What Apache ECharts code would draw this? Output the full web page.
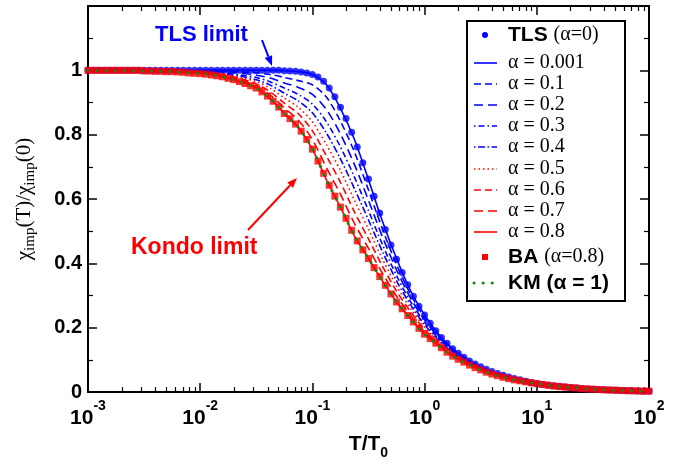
<!DOCTYPE html>
<html><head><meta charset="utf-8">
<script src="https://cdn.jsdelivr.net/npm/echarts@6/dist/echarts.min.js"></script>
<style>html,body{margin:0;padding:0;background:#fff}#c{width:684px;height:465px}</style>
</head><body><div id="c"></div>
<script>
// ---------- DATA ----------
// decades for x-axis ticks (T/T0 = 10^e)
const decadeExp = [-3, -2, -1, 0, 1, 2];
const minorMult = [2, 3, 4, 5, 6, 7, 8, 9];
const yTickMax = 1;

// exponents (log10 T/T0) used for the line curves
const lineExp = [-3,-2.5,-2.25,-2,-1.875,-1.75,-1.625,-1.5,-1.375,-1.25,-1.125,-1,-0.875,-0.75,-0.625,-0.5,-0.375,-0.25,-0.125,0,0.125,0.25,0.375,0.5,0.625,0.75,0.875,1,1.25,1.5,1.75,2];

const a0001 = [1.000,1.000,1.000,1.000,1.000,1.000,1.000,1.000,1.000,0.999,0.996,0.987,0.955,0.882,0.785,0.660,0.530,0.415,0.315,0.240,0.180,0.135,0.103,0.079,0.061,0.047,0.036,0.027,0.016,0.009,0.005,0.003];
const a01 = [1.000,1.000,0.999,0.999,0.998,0.997,0.995,0.992,0.987,0.978,0.968,0.955,0.917,0.842,0.746,0.628,0.506,0.397,0.304,0.232,0.175,0.132,0.101,0.078,0.060,0.046,0.036,0.027,0.016,0.009,0.005,0.003];
const a02 = [1.000,0.999,0.999,0.997,0.996,0.994,0.990,0.985,0.976,0.961,0.947,0.925,0.878,0.802,0.707,0.596,0.482,0.380,0.292,0.224,0.171,0.129,0.099,0.076,0.059,0.046,0.035,0.027,0.016,0.009,0.005,0.003];
const a03 = [1.000,0.999,0.998,0.996,0.994,0.990,0.985,0.978,0.964,0.945,0.925,0.895,0.840,0.762,0.668,0.564,0.458,0.362,0.281,0.217,0.166,0.126,0.097,0.075,0.058,0.045,0.035,0.027,0.016,0.009,0.005,0.003];
const a04 = [1.000,0.999,0.998,0.995,0.992,0.987,0.981,0.971,0.954,0.929,0.905,0.868,0.805,0.725,0.632,0.535,0.436,0.346,0.271,0.209,0.162,0.123,0.095,0.074,0.057,0.044,0.034,0.026,0.016,0.009,0.005,0.003];
const a05 = [1.000,0.999,0.997,0.994,0.991,0.984,0.976,0.965,0.944,0.914,0.885,0.840,0.769,0.689,0.596,0.506,0.413,0.330,0.260,0.202,0.158,0.121,0.094,0.073,0.056,0.044,0.034,0.026,0.016,0.009,0.005,0.003];
const a06 = [1.000,0.999,0.997,0.993,0.989,0.981,0.972,0.958,0.933,0.898,0.865,0.812,0.734,0.652,0.560,0.476,0.391,0.314,0.250,0.195,0.154,0.118,0.092,0.072,0.055,0.043,0.034,0.026,0.016,0.009,0.005,0.003];
const a07 = [1.000,0.998,0.997,0.991,0.987,0.978,0.967,0.952,0.923,0.883,0.845,0.785,0.698,0.615,0.524,0.447,0.369,0.298,0.239,0.188,0.150,0.115,0.090,0.070,0.054,0.043,0.033,0.026,0.016,0.009,0.005,0.003];
const a08 = [1.000,0.998,0.996,0.990,0.985,0.975,0.962,0.945,0.912,0.866,0.823,0.755,0.660,0.575,0.485,0.415,0.345,0.280,0.228,0.180,0.145,0.112,0.088,0.069,0.053,0.042,0.033,0.026,0.016,0.009,0.005,0.003];
const km = [1.000,0.998,0.996,0.990,0.985,0.975,0.962,0.945,0.912,0.866,0.823,0.755,0.660,0.575,0.485,0.415,0.345,0.280,0.228,0.180,0.145,0.112,0.088,0.069,0.053,0.042,0.033,0.026,0.016,0.009,0.005,0.003];

// dense symbol data: exponents from -3 to 2 in steps of 0.05
const dotStart = -3, dotEnd = 2, dotStep = 0.05;
const tls = [1,1,1,1,1,1,1,1,1,1, 1,1,1,1,1,1,1,1,1,1, 1,1,1,1,1,1,1,1,1,1, 1,1,1,1,1,
  0.999,0.998,0.997,0.995,0.992,0.987,
  0.979,0.966,0.945,0.918,0.885,0.850,0.808,0.762,0.713,0.662,
  0.609,0.557,0.505,0.457,0.413,0.372,0.334,0.298,0.267,0.240,
  0.214,0.191,0.170,0.152,0.135,0.121,0.108,0.097,0.087,0.079,
  0.071,0.064,0.058,0.052,0.047,0.042,0.038,0.034,0.030,0.027,
  0.024,0.022,0.020,0.018,0.016,0.014,0.013,0.011,0.010,0.009,
  0.008,0.007,0.0065,0.006,0.005,0.0045,0.004,0.0035,0.003,0.003];
const ba = [1,1,1,1,1,1,1,1,1,1,
  0.998,0.998,0.997,0.997,0.996,0.996,0.995,0.994,0.992,0.991,
  0.990,0.988,0.986,0.983,0.980,0.975,0.971,0.965,0.959,0.952,
  0.945,0.933,0.920,0.904,0.886,0.866,0.850,0.833,0.811,0.785,
  0.755,0.718,0.680,0.643,0.609,0.575,0.540,0.503,0.470,0.442,
  0.415,0.387,0.359,0.332,0.305,0.280,0.259,0.238,0.218,0.198,
  0.180,0.166,0.152,0.138,0.124,0.112,0.102,0.093,0.084,0.076,
  0.069,0.062,0.056,0.051,0.046,0.042,0.038,0.035,0.032,0.029,
  0.026,0.024,0.021,0.019,0.017,0.016,0.014,0.013,0.011,0.010,
  0.009,0.008,0.007,0.0065,0.006,0.005,0.0045,0.004,0.0035,0.003,0.003];

const lineNames = ['α = 0.001','α = 0.1','α = 0.2','α = 0.3','α = 0.4','α = 0.5','α = 0.6','α = 0.7','α = 0.8'];
const lineValues = [a0001,a01,a02,a03,a04,a05,a06,a07,a08];

// ---------- STYLE ----------
const SANS = '"Liberation Sans", Arial, Helvetica, sans-serif';
const SERIF = '"Liberation Serif", "Times New Roman", serif';
const BLUE = '#0000ff', RED = '#ff0000', GREEN = '#118811';
const lineStyles = [
  {color: BLUE, type: 'solid'},
  {color: BLUE, type: [7, 4]},
  {color: BLUE, type: [9, 5]},
  {color: BLUE, type: [1.5, 3, 6, 3]},
  {color: BLUE, type: [1.5, 2.5, 7, 2.5]},
  {color: RED, type: [1.5, 3]},
  {color: RED, type: [7, 4]},
  {color: RED, type: [9, 5]},
  {color: RED, type: 'solid'}
];

function seq(a, b, s) { const r = []; const n = Math.round((b - a) / s); for (let i = 0; i <= n; i++) r.push(+(a + i * s).toFixed(4)); return r; }
const dotExp = seq(dotStart, dotEnd, dotStep);
const pts = (exps, vals) => exps.map((e, i) => [Math.pow(10, e), vals[i]]);

const xMajor = decadeExp.map(e => Math.pow(10, e));
const xMinor = [];
decadeExp.slice(0, -1).forEach(e => minorMult.forEach(m => xMinor.push(m * Math.pow(10, e))));

const series = [];
series.push({name: 'TLS', type: 'scatter', data: pts(dotExp, tls), symbol: 'circle', symbolSize: 7,
  itemStyle: {color: BLUE}, z: 2});
lineValues.forEach((v, i) => series.push({
  name: lineNames[i], type: 'line', data: pts(lineExp, v), symbol: 'none', smooth: 0.3,
  lineStyle: {color: lineStyles[i].color, type: lineStyles[i].type, width: 1.6}, z: 3
}));
series.push({name: 'BA', type: 'scatter', data: pts(dotExp, ba), symbol: 'rect', symbolSize: 7,
  itemStyle: {color: RED}, z: 4});
series.push({name: 'KM', type: 'line', data: pts(lineExp, km), symbol: 'none', smooth: 0.3,
  lineStyle: {color: GREEN, width: 3, type: [0.1, 9], cap: 'round'}, z: 5});

const baseX = {type: 'log', logBase: 10, min: 0.001, max: 100, splitLine: {show: false}};
const xAxes = [
  Object.assign({}, baseX, {position: 'bottom',
    axisLine: {lineStyle: {color: '#000', width: 2}},
    axisTick: {inside: true, length: 9, customValues: xMajor, lineStyle: {color: '#000', width: 1.5}},
    axisLabel: {customValues: xMajor, margin: 7, color: '#000',
      formatter: v => '{b|10}{s|' + Math.round(Math.log10(v)) + '}',
      rich: {b: {fontSize: 21, fontWeight: 'bold', fontFamily: SANS, color: '#000', lineHeight: 30, verticalAlign: 'bottom'},
             s: {fontSize: 14, fontWeight: 'bold', fontFamily: SANS, color: '#000', lineHeight: 14, verticalAlign: 'top'}}},
    name: '{a|T/T}{s|0}', nameLocation: 'middle', nameGap: 30,
    nameTextStyle: {rich: {a: {fontSize: 21, fontWeight: 'bold', fontFamily: SANS, color: '#000', lineHeight: 26, verticalAlign: 'top'},
                           s: {fontSize: 14, fontWeight: 'bold', fontFamily: SANS, color: '#000', lineHeight: 14, verticalAlign: 'bottom'}}}
  }),
  Object.assign({}, baseX, {position: 'bottom', axisLine: {show: false},
    axisTick: {inside: true, length: 5, customValues: xMinor, lineStyle: {color: '#000', width: 1.2}},
    axisLabel: {show: false}}),
  Object.assign({}, baseX, {position: 'top',
    axisLine: {lineStyle: {color: '#000', width: 2}},
    axisTick: {inside: true, length: 9, customValues: xMajor, lineStyle: {color: '#000', width: 1.5}},
    axisLabel: {show: false}}),
  Object.assign({}, baseX, {position: 'top', axisLine: {show: false},
    axisTick: {inside: true, length: 5, customValues: xMinor, lineStyle: {color: '#000', width: 1.2}},
    axisLabel: {show: false}})
];
const baseY = {type: 'value', min: 0, max: 1.2, interval: 0.2, splitLine: {show: false},
  axisLine: {show: true, lineStyle: {color: '#000', width: 2}},
  axisTick: {show: true, inside: true, length: 9, lineStyle: {color: '#000', width: 1.5}},
  minorTick: {show: true, splitNumber: 2, length: 5, lineStyle: {color: '#000', width: 1.2}}};
const yAxes = [
  Object.assign({}, baseY, {position: 'left',
    axisLabel: {margin: 6, color: '#000', fontSize: 20, fontWeight: 'bold', fontFamily: SANS,
      formatter: v => v > yTickMax + 0.01 ? '' : (v === 0 ? '0' : (Math.abs(v - 1) < 1e-9 ? '1' : v.toFixed(1)))},
    name: '{a|χ}{s|imp}{a|(T)/χ}{s|imp}{a|(0)}', nameLocation: 'middle', nameRotate: 90, nameGap: 50,
    nameTextStyle: {rich: {a: {fontSize: 21, fontFamily: SERIF, color: '#000', lineHeight: 24, verticalAlign: 'top'},
                           s: {fontSize: 15, fontFamily: SERIF, color: '#000', lineHeight: 14, verticalAlign: 'bottom'}}}}),
  Object.assign({}, baseY, {position: 'right', axisLabel: {show: false}})
];

// ---------- LEGEND (graphic) ----------
const legendLabels = ['{b|TLS }{t|(α=0)}', ...lineNames.map(n => '{t|' + n + '}'), '{b|BA }{t|(α=0.8)}', '{b|KM (α = 1)}'];
const legendY = [35, 63, 84, 105, 126, 147, 169, 190, 211, 232, 257, 283];
const richLegend = {b: {fontSize: 21, fontWeight: 'bold', fontFamily: SANS, fill: '#000'},
                    t: {fontSize: 20, fontFamily: SERIF, fill: '#000'}};
const gEls = [];
gEls.push({type: 'rect', shape: {x: 467, y: 21, width: 158, height: 280}, style: {fill: '#fff', stroke: '#000', lineWidth: 2}, z: 100});
legendLabels.forEach((lab, i) => {
  const y = legendY[i];
  gEls.push({type: 'text', x: 508, y: y, z: 101,
    style: {text: lab, rich: richLegend, verticalAlign: 'middle', textVerticalAlign: 'middle', align: 'left', fill: '#000'}});
  if (i === 0) {
    gEls.push({type: 'circle', shape: {cx: 485, cy: y, r: 3}, style: {fill: BLUE}, z: 101});
  } else if (i <= lineNames.length) {
    const ls = lineStyles[i - 1];
    gEls.push({type: 'line', shape: {x1: 474, y1: y, x2: 497, y2: y}, z: 101,
      style: {stroke: ls.color, lineWidth: 1.6, lineDash: ls.type === 'solid' ? null : ls.type}});
  } else if (i === lineNames.length + 1) {
    gEls.push({type: 'rect', shape: {x: 482, y: y - 3, width: 6, height: 6}, style: {fill: RED}, z: 101});
  } else {
    gEls.push({type: 'line', shape: {x1: 474, y1: y, x2: 498, y2: y}, z: 101,
      style: {stroke: GREEN, lineWidth: 3, lineDash: [0.1, 9], lineCap: 'round'}});
  }
});
// annotations
function arrow(x1, y1, x2, y2, color) {
  const dx = x2 - x1, dy = y2 - y1, L = Math.hypot(dx, dy), ux = dx / L, uy = dy / L;
  const hl = 10, hw = 4;
  const bx = x2 - ux * hl, by = y2 - uy * hl;
  return [
    {type: 'line', shape: {x1: x1, y1: y1, x2: bx, y2: by}, style: {stroke: color, lineWidth: 2}, z: 50},
    {type: 'polygon', shape: {points: [[x2, y2], [bx - uy * hw, by + ux * hw], [bx + uy * hw, by - ux * hw]]}, style: {fill: color}, z: 50}
  ];
}
gEls.push({type: 'text', x: 155, y: 35, z: 50, style: {text: 'TLS limit', font: 'bold 22px ' + SANS, fill: BLUE, verticalAlign: 'middle', textVerticalAlign: 'middle'}});
gEls.push(...arrow(262, 40, 272, 66, BLUE));
gEls.push({type: 'text', x: 131, y: 248, z: 50, style: {text: 'Kondo limit', font: 'bold 23px ' + SANS, fill: RED, verticalAlign: 'middle', textVerticalAlign: 'middle'}});
gEls.push(...arrow(248, 230, 297, 178, RED));

const chart = echarts.init(document.getElementById('c'), null, {renderer: 'canvas'});
chart.setOption({
  animation: false,
  backgroundColor: '#fff',
  grid: {left: 88, right: 35, top: 6, bottom: 67, containLabel: false},
  xAxis: xAxes,
  yAxis: yAxes,
  series: series,
  graphic: gEls
});
</script>
</body></html>
